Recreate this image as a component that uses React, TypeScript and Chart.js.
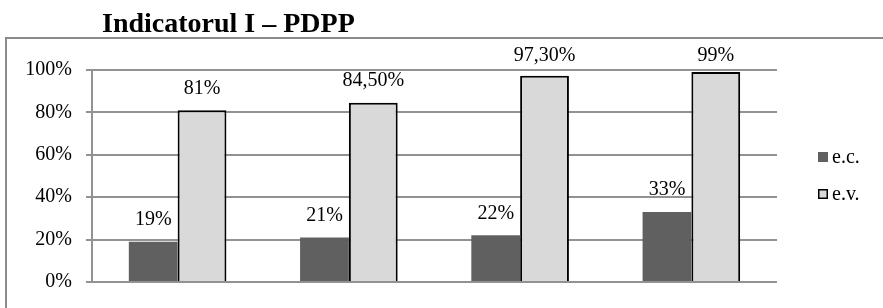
import React, { useEffect, useRef } from "react";
import { Chart, registerables } from "chart.js";

Chart.register(...registerables);

const categories = ["", "", "", ""];
const ecValues = [19, 21, 22, 33];
const evValues = [81, 84.5, 97.3, 99];
const ecLabels = ["19%", "21%", "22%", "33%"];
const evLabels = ["81%", "84,50%", "97,30%", "99%"];
const seriesNames = ["e.c.", "e.v."];
const yTicks = [0, 20, 40, 60, 80, 100];
const titleText = "Indicatorul I \u2013 PDPP";

const FONT = "'Liberation Serif', 'Times New Roman', serif";
const EC_COLOR = "#606060";
const EV_COLOR = "#d9d9d9";
const GRID = "#929292";

export default function App() {
  const ref = useRef<HTMLCanvasElement>(null);
  useEffect(() => {
    const canvas = ref.current!;
    const allLabels = [ecLabels, evLabels];
    const decor = {
      id: "decor",
      beforeDraw(chart: any) {
        const ctx = chart.ctx;
        ctx.save();
        ctx.fillStyle = "#fff";
        ctx.fillRect(0, 0, chart.width, chart.height);
        ctx.strokeStyle = "#8a8a8a";
        ctx.lineWidth = 2;
        ctx.strokeRect(6, 38, 1000, 400);
        ctx.fillStyle = "#000";
        ctx.font = "bold 28px " + FONT;
        ctx.textAlign = "left";
        ctx.textBaseline = "alphabetic";
        ctx.fillText(titleText, 102, 32);
        ctx.restore();
      },
      afterDatasetsDraw(chart: any) {
        const ctx = chart.ctx;
        ctx.save();
        ctx.font = "20px " + FONT;
        ctx.fillStyle = "#000";
        ctx.textAlign = "center";
        ctx.textBaseline = "middle";
        chart.data.datasets.forEach((ds: any, i: number) => {
          const meta = chart.getDatasetMeta(i);
          meta.data.forEach((el: any, j: number) => {
            const y = Math.max(el.y - 22, 56);
            ctx.fillText(allLabels[i][j], el.x, y);
          });
        });
        // legend
        const lx = 818;
        const ys = [157, 194];
        ctx.textAlign = "left";
        seriesNames.forEach((name, i) => {
          const y = ys[i];
          if (i === 0) {
            ctx.fillStyle = EC_COLOR;
            ctx.fillRect(lx, y - 5, 10, 10);
          } else {
            ctx.fillStyle = EV_COLOR;
            ctx.fillRect(lx, y - 5, 10, 10);
            ctx.strokeStyle = "#000";
            ctx.lineWidth = 1.5;
            ctx.strokeRect(lx + 0.75, y - 4.25, 8.5, 8.5);
          }
          ctx.fillStyle = "#000";
          ctx.fillText(name, lx + 14, y + 1);
        });
        ctx.restore();
      },
    };
    const chart = new Chart(canvas, {
      type: "bar",
      data: {
        labels: categories,
        datasets: [
          {
            label: seriesNames[0],
            data: ecValues,
            backgroundColor: EC_COLOR,
            borderWidth: 0,
            categoryPercentage: 0.57,
            barPercentage: 1,
          },
          {
            label: seriesNames[1],
            data: evValues,
            backgroundColor: EV_COLOR,
            borderColor: "#000",
            borderWidth: 2,
            categoryPercentage: 0.57,
            barPercentage: 1,
          },
        ],
      },
      options: {
        responsive: false,
        animation: false,
        devicePixelRatio: 1,
        layout: { padding: { top: 70, bottom: 25, left: 0, right: 106 } },
        plugins: {
          legend: { display: false },
          title: { display: false },
          tooltip: { enabled: false },
        },
        scales: {
          x: { display: false },
          y: {
            min: 0,
            max: 100,
            afterFit(scale: any) {
              scale.width = 92;
            },
            afterBuildTicks(scale: any) {
              scale.ticks = yTicks.map((v) => ({ value: v }));
            },
            border: { display: true, color: GRID, width: 2 },
            grid: { color: GRID, lineWidth: 2, tickLength: 6, drawTicks: true },
            ticks: {
              color: "#000",
              padding: 14,
              font: { family: FONT, size: 20 },
              callback: (v: any) => v + "%",
            },
          },
        },
      },
      plugins: [decor],
    });
    return () => chart.destroy();
  }, []);
  return (
    <div style={{ position: "fixed", left: 0, top: 0, width: 883, height: 308, background: "#fff" }}>
      <canvas ref={ref} width={883} height={308} style={{ display: "block" }} />
    </div>
  );
}
